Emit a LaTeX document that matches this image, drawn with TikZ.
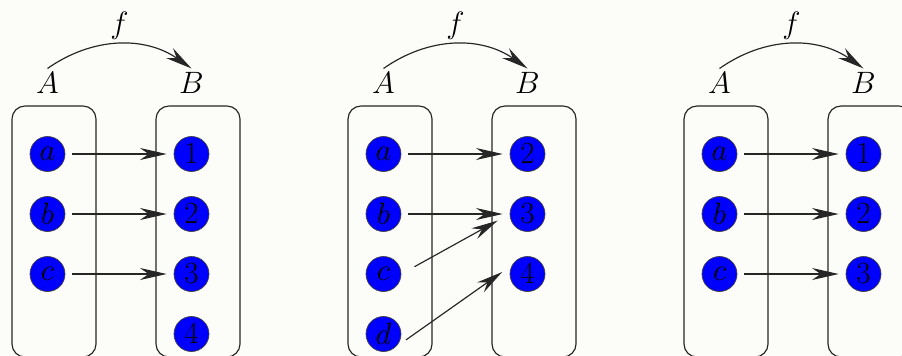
\documentclass[tikz,border=0pt]{standalone}
\usetikzlibrary{arrows.meta,positioning,calc}
\tikzset{>={Stealth[length=8mm,width=3.6mm,inset=2.6mm]},
  elem/.style={circle, draw=black!75, line width=0.6pt, fill=blue, minimum size=0.99cm, inner sep=0pt, font=\Huge, scale=1.06, transform shape},
  setbox/.style={draw=black!85, line width=1pt, rounded corners=0.39cm, minimum width=2.52cm, minimum height=7.53cm},
  setname/.style={inner sep=3pt, font=\Huge, scale=1.06, transform shape},
  map/.style={->, draw=black!85, line width=1pt},
  short/.style={shorten <=0.21cm, shorten >=0.21cm}}

\begin{document}
\begin{tikzpicture}[x=0.03cm, y=-0.03cm]
  \useasboundingbox[fill={rgb,255:red,252;green,252;blue,249}] (0,0) rectangle (902,355);
  % sets, set names and f
  \foreach \i/\x in {1/0, 2/336, 3/672} {
    \node[setbox] (boxA\i) at (\x+54,231.5) {};
    \node[setbox] (boxB\i) at (\x+198,231.5) {};
    \node[setname] (A\i) at (\x+47.5,83) {$A$};
    \node[setname] (B\i) at (\x+191.5,83) {$B$};
    \draw[map] (A\i.north) to[bend left=35] node[above, setname] (f\i) {$f$} (B\i.north);
  }
  % first mapping
  \foreach \n/\y in {a/154, b/214, c/274} \node[elem] (p1\n) at (47.5,\y) {$\n$};
  \foreach \n/\y in {1/154, 2/214, 3/274, 4/334} \node[elem] (p1n\n) at (191.5,\y) {$\n$};
  \foreach \s/\t in {a/1, b/2, c/3} \draw[map, short] (p1\s.east) -- (p1n\t.west);
  % second mapping
  \foreach \n/\y in {a/154, b/214, c/274, d/334} \node[elem] (p2\n) at (383.5,\y) {$\n$};
  \foreach \n/\y in {2/154, 3/214, 4/274} \node[elem] (p2n\n) at (527.5,\y) {$\n$};
  \draw[map, short] (p2a.east) -- (p2n2.west);
  \draw[map, short] (p2b.east) -- (p2n3.west);
  \draw[map, shorten <=0.45cm, shorten >=0.41cm] (p2c.east) -- (p2n3.west);
  \draw[map, shorten <=0.5cm, shorten >=0.36cm] (p2d.-60) -- (p2n4.150);
  % third mapping
  \foreach \n/\y in {a/154, b/214, c/274} \node[elem] (p3\n) at (719.5,\y) {$\n$};
  \foreach \n/\y in {1/154, 2/214, 3/274} \node[elem] (p3n\n) at (863.5,\y) {$\n$};
  \foreach \s/\t in {a/1, b/2, c/3} \draw[map, short] (p3\s.east) -- (p3n\t.west);
\end{tikzpicture}
\end{document}
